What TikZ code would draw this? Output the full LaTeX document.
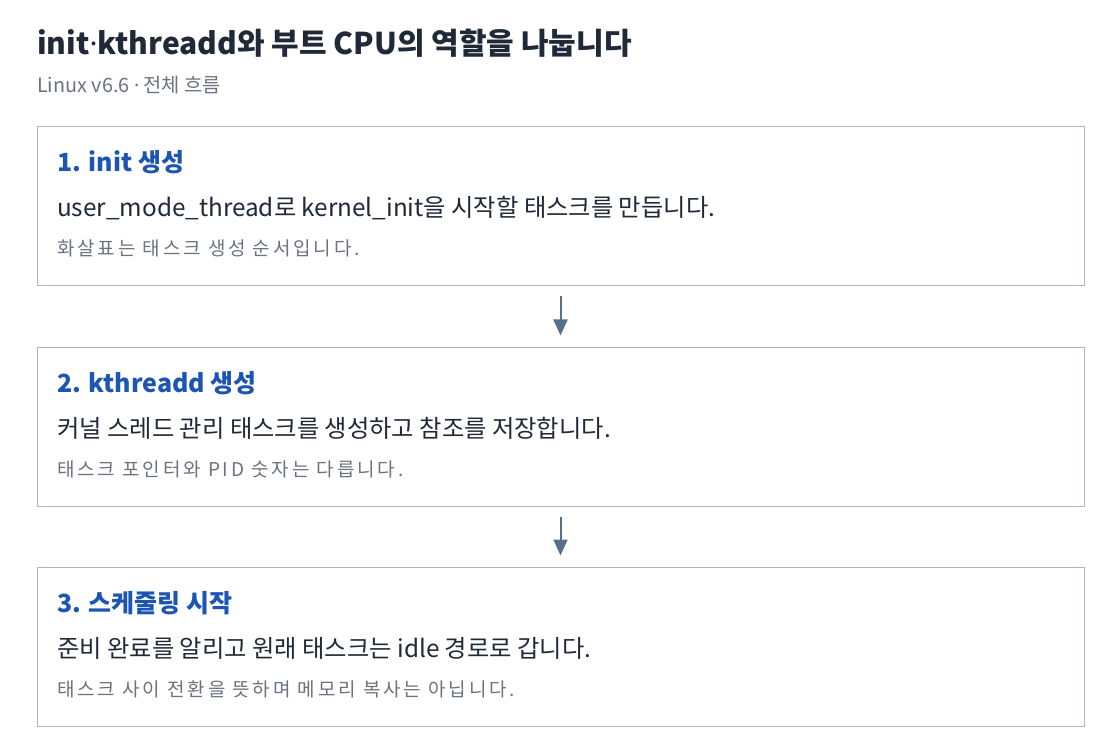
\documentclass[tikz,border=0pt]{standalone}
\usepackage{fontspec}
\setmainfont{Noto Sans CJK KR}
\newfontfamily\latinfont{Noto Sans}
\usetikzlibrary{arrows.meta}

\definecolor{titlecol}{HTML}{1F2937}
\definecolor{headcol}{HTML}{1D55B4}
\definecolor{notecol}{HTML}{6B7280}
\definecolor{edgecol}{HTML}{AEB6C4}
\definecolor{arrowcol}{HTML}{5A6F8A}

\newcommand{\middot}{{\latinfont\bfseries ·}}

\begin{document}
\begin{tikzpicture}[x=1pt, y=-1pt,
    stepbox/.style={draw=edgecol, line width=1pt, fill=white, minimum width=1047pt, minimum height=159pt, inner sep=0pt},
    head/.style={anchor=base west, inner sep=0pt, text=headcol, font=\fontsize{25}{30}\selectfont\bfseries},
    body/.style={anchor=base west, inner sep=0pt, text=titlecol, font=\fontsize{24.3}{29}\selectfont},
    note/.style={anchor=base west, inner sep=0pt, text=notecol, font=\fontsize{19}{23}\selectfont\addfontfeature{LetterSpace=15}},
    flow/.style={draw=arrowcol, line width=2pt, -{Triangle[width=14pt,length=16pt]}, shorten <=10pt, shorten >=11pt}]
    \useasboundingbox (0,0) rectangle (1120,754);
    % Title
    \node[anchor=base west, inner sep=0pt, text=titlecol, font=\fontsize{30}{35}\selectfont\bfseries] (title) at (37,55) {init\middot kthreadd와 부트 CPU의 역할을 나눕니다};
    \node[anchor=base west, inner sep=0pt, text=notecol, font=\fontsize{19.8}{23}\selectfont] (sub) at (37,93) {Linux v6.6 {\latinfont ·} 전체 흐름};

    % Steps
    \node[stepbox] (s1) at (560.5,206.5) {};
    \node[stepbox] (s2) at (560.5,426.5) {};
    \node[stepbox] (s3) at (560.5,646.5) {};

    \node[head] (h1) at (57,172) {1. init 생성};
    \node[body] (b1) at (57,217) {user\_mode\_thread로 kernel\_init을 시작할 태스크를 만듭니다.};
    \node[note] (n1) at (57,256) {화살표는 태스크 생성 순서입니다.};

    \node[head] (h2) at (57,392) {2. kthreadd 생성};
    \node[body] (b2) at (57,437) {커널 스레드 관리 태스크를 생성하고 참조를 저장합니다.};
    \node[note] (n2) at (57,476) {태스크 포인터와 PID 숫자는 다릅니다.};

    \node[head] (h3) at (57,612) {3. 스케줄링 시작};
    \node[body] (b3) at (57,657) {준비 완료를 알리고 원래 태스크는 idle 경로로 갑니다.};
    \node[note] (n3) at (57,696) {태스크 사이 전환을 뜻하며 메모리 복사는 아닙니다.};

    \draw[flow] (s1) -- (s2);
    \draw[flow] (s2) -- (s3);
\end{tikzpicture}
\end{document}
